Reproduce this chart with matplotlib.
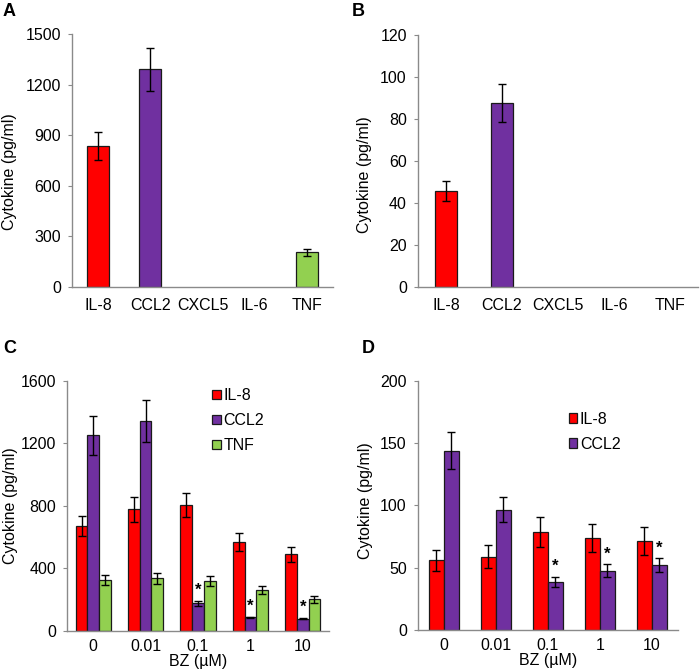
# Four-panel cytokine bar chart (A/B: single values, C/D: BZ dose series)
import numpy as np
import matplotlib
matplotlib.use("Agg")
import matplotlib.pyplot as plt

plt.rcParams['font.family'] = ['Liberation Sans', 'DejaVu Sans']

RED = '#ff0000'
PURPLE = '#7030a0'
GREEN = '#92d050'
GREY = '#8a8a8a'

# Panel A / B data
cats_ab = ['IL-8', 'CCL2', 'CXCL5', 'IL-6', 'TNF']
cat_colors = [RED, PURPLE, 'white', 'white', GREEN]
a_vals = [838, 1291, 0, 0, 205]
a_err = [83, 128, 0, 0, 21]
b_vals = [45.9, 87.8, 0, 0, 0]
b_err = [4.6, 8.9, 0, 0, 0]

# Panel C / D data
bz = ['0', '0.01', '0.1', '1', '10']
c_il8 = [670, 777, 806, 568, 489]
c_il8_err = [65, 80, 78, 58, 48]
c_ccl2 = [1251, 1340, 174, 85, 77]
c_ccl2_err = [125, 134, 18, 5, 5]
c_tnf = [323, 334, 321, 260, 200]
c_tnf_err = [32, 35, 32, 23, 20]
c_sig = [False, False, True, True, True]

d_il8 = [56.1, 58.8, 78.6, 73.5, 71.4]
d_il8_err = [8.4, 9.0, 12.0, 11.3, 11.0]
d_ccl2 = [143.9, 96.3, 38.8, 47.6, 52.1]
d_ccl2_err = [14.7, 10.0, 4.0, 5.0, 5.3]
d_sig = [False, False, True, True, True]

FS = 11.5
ekw = dict(ecolor='black', elinewidth=1.0, capsize=3, capthick=1.0)


def style(ax, ymax, step, labels, xpad):
    ax.set_xlim(-0.5, 4.5)
    ax.set_ylim(0, ymax)
    ax.set_yticks(np.arange(0, ymax + 1e-9, step))
    ax.set_xticks(range(len(labels)))
    ax.set_xticklabels(labels)
    for s in ['top', 'right']:
        ax.spines[s].set_visible(False)
    for s in ['left', 'bottom']:
        ax.spines[s].set_color(GREY)
        ax.spines[s].set_linewidth(1.0)
    ax.tick_params(axis='y', length=3, color=GREY, pad=5, labelsize=FS)
    ax.tick_params(axis='x', length=0, pad=xpad, labelsize=FS)
    ax.set_ylabel('Cytokine (pg/ml)', fontsize=FS)


def stars(ax, x, vals, errs, sig):
    for xi, v, e, s in zip(x, vals, errs, sig):
        if s:
            ax.annotate('*', xy=(xi, v + e), xytext=(0, 2), textcoords='offset points',
                        ha='center', va='bottom', fontsize=12, fontweight='bold')


fig = plt.figure(figsize=(7, 6.7), dpi=100)

# A
axA = fig.add_axes([0.1029, 0.5721, 0.3728, 0.3767])
x = np.arange(len(cats_ab))
m = np.array(a_vals) > 0
axA.bar(x[m], np.array(a_vals)[m], width=0.42, color=np.array(cat_colors)[m],
        edgecolor='#1a1a1a', linewidth=0.9, yerr=np.array(a_err)[m], error_kw=ekw)
style(axA, 1500, 300, cats_ab, 8)
axA.yaxis.set_label_coords(-0.212, 0.456)

# B
axB = fig.add_axes([0.597, 0.5712, 0.400, 0.3761])
m = np.array(b_vals) > 0
axB.bar(x[m], np.array(b_vals)[m], width=0.405, color=np.array(cat_colors)[m],
        edgecolor='#1a1a1a', linewidth=0.9, yerr=np.array(b_err)[m], error_kw=ekw)
style(axB, 120, 20, cats_ab, 8)
axB.yaxis.set_label_coords(-0.164, 0.448)

# C
axC = fig.add_axes([0.0957, 0.0587, 0.3743, 0.3731])
w = 0.223
xc = np.arange(len(bz))
axC.bar(xc - w, c_il8, w, color=RED, edgecolor='#1a1a1a', linewidth=0.9,
        yerr=c_il8_err, error_kw=ekw, label='IL-8')
axC.bar(xc, c_ccl2, w, color=PURPLE, edgecolor='#1a1a1a', linewidth=0.9,
        yerr=c_ccl2_err, error_kw=ekw, label='CCL2')
axC.bar(xc + w, c_tnf, w, color=GREEN, edgecolor='#1a1a1a', linewidth=0.9,
        yerr=c_tnf_err, error_kw=ekw, label='TNF')
stars(axC, xc, c_ccl2, c_ccl2_err, c_sig)
style(axC, 1600, 400, bz, 6)
axC.set_xlabel('BZ (µM)', fontsize=FS, labelpad=0)
axC.yaxis.set_label_coords(-0.188, 0.5)
axC.legend(loc='upper left', bbox_to_anchor=(0.555, 0.97), frameon=False,
           fontsize=FS, handlelength=0.55, handleheight=0.55, handletextpad=0.15,
           labelspacing=0.62, borderpad=0, borderaxespad=0)

# D
axD = fig.add_axes([0.597, 0.0597, 0.3714, 0.3721])
w = 0.29
axD.bar(xc - w / 2, d_il8, w, color=RED, edgecolor='#1a1a1a', linewidth=0.9,
        yerr=d_il8_err, error_kw=ekw, label='IL-8')
axD.bar(xc + w / 2, d_ccl2, w, color=PURPLE, edgecolor='#1a1a1a', linewidth=0.9,
        yerr=d_ccl2_err, error_kw=ekw, label='CCL2')
stars(axD, xc + w / 2, d_ccl2, d_ccl2_err, d_sig)
style(axD, 200, 50, bz, 6)
axD.set_xlabel('BZ (µM)', fontsize=FS, labelpad=0)
axD.yaxis.set_label_coords(-0.173, 0.52)
axD.legend(loc='upper left', bbox_to_anchor=(0.58, 0.875), frameon=False,
           fontsize=FS, handlelength=0.55, handleheight=0.55, handletextpad=0.15,
           labelspacing=0.62, borderpad=0, borderaxespad=0)

# panel letters
for lbl, (px, py) in zip('ABCD', [(3, 3), (352, 3), (3, 340), (362, 340)]):
    fig.text(px / 700, 1 - py / 670, lbl, fontsize=13, fontweight='bold',
             ha='left', va='top')

fig.savefig('out.png', dpi=100)
